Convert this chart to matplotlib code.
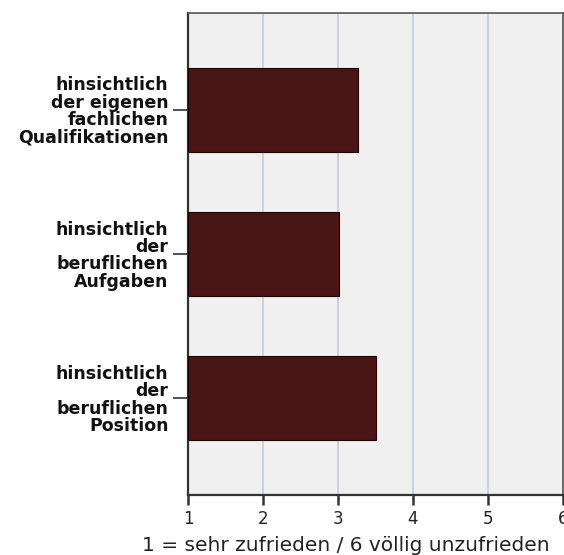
import matplotlib
matplotlib.use("Agg")
import matplotlib.pyplot as plt

categories = [
    "hinsichtlich\nder eigenen\nfachlichen\nQualifikationen",
    "hinsichtlich\nder\nberuflichen\nAufgaben",
    "hinsichtlich\nder\nberuflichen\nPosition",
]
values = [3.27, 3.01, 3.51]
xticks = [1, 2, 3, 4, 5, 6]
xlabel = "1 = sehr zufrieden / 6 völlig unzufrieden"

fig = plt.figure(figsize=(5.64, 5.55), dpi=100)
ax = fig.add_axes([188/564, 60/555, 375/564, 482/555])
ax.set_facecolor("#f0f0f0")

base = 1
ypos = list(range(len(categories)))
ax.barh(ypos, [v - base for v in values], left=base, height=0.58,
        color="#4a1515", edgecolor="#1a0505", linewidth=0.8, zorder=3)

ax.set_xlim(1, 6)
ax.set_ylim(2.67, -0.67)
ax.set_xticks(xticks)
ax.set_xticklabels([str(t) for t in xticks], fontsize=12, color="#222222")
ax.set_yticks(ypos)
ax.set_yticklabels(categories, fontsize=12.5, fontweight="bold",
                   linespacing=0.95, color="#111111")
for lab in ax.get_yticklabels():
    lab.set_horizontalalignment("right")
    lab.set_multialignment("right")

ax.tick_params(axis="y", length=11, width=1.2, color="#333333", pad=3)
ax.tick_params(axis="x", length=7.5, width=1.8, color="#333333", pad=3)

ax.xaxis.grid(True, color="#c9cde0", linewidth=1.3, zorder=0)
ax.set_axisbelow(True)

for side in ["left", "bottom"]:
    ax.spines[side].set_color("#333333")
    ax.spines[side].set_linewidth(1.6)
for side in ["top", "right"]:
    ax.spines[side].set_color("#555555")
    ax.spines[side].set_linewidth(1.2)

fig.text(346/564, 4/555, xlabel, fontsize=14.5, color="#222222",
         ha="center", va="baseline")

fig.savefig("out.png", dpi=100)
